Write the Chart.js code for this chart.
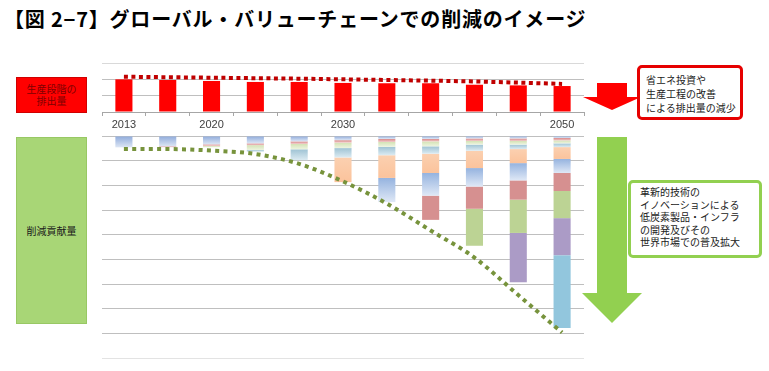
<!DOCTYPE html>
<html lang="ja">
<head>
<meta charset="utf-8">
<title>グローバル・バリューチェーンでの削減のイメージ</title>
<script src="https://cdn.jsdelivr.net/npm/chart.js@4.4.1/dist/chart.umd.min.js"></script>
<style>
  html, body { margin: 0; padding: 0; background: #fff; }
  #page {
    position: relative; width: 769px; height: 371px; overflow: hidden;
    font-family: "Noto Sans CJK JP", "Noto Sans", sans-serif; color: #222;
  }
  #title {
    position: absolute; left: 4px; top: 4px; font-size: 20px; font-weight: bold;
    letter-spacing: 0.8px; line-height: 30px; color: #000; white-space: nowrap;
  }
  canvas { position: absolute; left: 0; }
  #top-chart { top: 0; }
  #bottom-chart { top: 130px; }
  .side-box {
    position: absolute; left: 16px; width: 71px; box-sizing: border-box;
    font-size: 10px; text-align: center; display: flex; align-items: center;
    justify-content: center; line-height: 12px;
  }
  #emission-box { top: 77px; height: 36px; background: #ff0000; border: 1px solid #d00000; color: #800000; }
  #reduction-box { top: 137px; height: 187px; background: #a8d676; border: 1px solid #98c864; color: #1a1a1a; }
  .callout {
    position: absolute; box-sizing: border-box; background: #fff; border-radius: 5px;
    font-size: 10px; white-space: nowrap; color: #222;
  }
  #energy-note { left: 637px; top: 65px; width: 106px; height: 55px; border: 3px solid #e60000; padding: 5px 0 0 6px; line-height: 14px; }
  #innovation-note { left: 628px; top: 180px; width: 134px; height: 78px; border: 3px solid #92d050; padding: 3px 0 0 9px; line-height: 12.6px; }
  svg { position: absolute; left: 0; top: 0; }
</style>
</head>
<body>
<div id="page">
  <div id="title">【図 2−7】グローバル・バリューチェーンでの削減のイメージ</div>
  <canvas id="top-chart" width="769" height="140"></canvas>
  <canvas id="bottom-chart" width="769" height="241"></canvas>
  <div class="side-box" id="emission-box">生産段階の<br>排出量</div>
  <div class="side-box" id="reduction-box">削減貢献量</div>
  <svg width="769" height="371">
    <polygon points="597,83 627,83 627,97 641,97 612,110 583,97 597,97" fill="#ff0000"/>
    <polygon points="597,137 627,137 627,293 642,293 612,323 582,293 597,293" fill="#92d050"/>
  </svg>
  <div class="callout" id="energy-note">省エネ投資や<br>生産工程の改善<br>による排出量の減少</div>
  <div class="callout" id="innovation-note">革新的技術の<br>イノベーションによる<br>低炭素製品・インフラ<br>の開発及びその<br>世界市場での普及拡大</div>
</div>
<script>
// years on the axis (only some are labelled in the figure)
var years = ["2013", "", "2020", "", "", "2030", "", "", "", "", "2050"];

// production-stage emissions (top panel)
var emissions = [2.0, 1.96, 1.9, 1.84, 1.84, 1.78, 1.76, 1.76, 1.67, 1.63, 1.59];
var emissionTrend = [2.16, 2.13, 2.1, 2.07, 2.04, 2.0, 1.96, 1.92, 1.87, 1.8, 1.72];
var emissionTicks = [0, 1, 2, 3];

// reduction contributions (bottom panel), one array per technology band
var bandBlueTop = [0.46, 0.42, 0.34, 0.3, 0.22, 0.17, 0.12, 0.12, 0.1, 0.1, 0.08];
var bandRedThin = [0, 0.03, 0.06, 0.07, 0.1, 0.1, 0.12, 0.1, 0.1, 0.1, 0.1];
var bandYellow = [0, 0, 0.06, 0.2, 0.22, 0.22, 0.2, 0.2, 0.15, 0.15, 0.12];
var bandTeal = [0, 0, 0, 0.07, 0.44, 0.38, 0.34, 0.3, 0.25, 0.18, 0.15];
var bandOrange = [0, 0, 0, 0, 0, 1.0, 0.92, 0.78, 0.7, 0.57, 0.48];
var bandBlue = [0, 0, 0, 0, 0, 0, 0.98, 0.92, 0.75, 0.7, 0.57];
var bandRed = [0, 0, 0, 0, 0, 0, 0, 0.98, 0.9, 0.78, 0.73];
var bandGreen = [0, 0, 0, 0, 0, 0, 0, 0, 1.5, 1.35, 1.1];
var bandPurple = [0, 0, 0, 0, 0, 0, 0, 0, 0, 2.0, 1.5];
var bandCyan = [0, 0, 0, 0, 0, 0, 0, 0, 0, 0, 2.95];
var reductionCurve = [0.53, 0.53, 0.59, 0.73, 1.13, 1.84, 2.74, 3.83, 4.93, 6.45, 7.97];
var reductionTicks = [0, -1, -2, -3, -4, -5, -6, -7, -8, -9];

document.addEventListener("DOMContentLoaded", function () {
  var bands = [bandBlueTop, bandRedThin, bandYellow, bandTeal, bandOrange,
    bandBlue, bandRed, bandGreen, bandPurple, bandCyan];
  // top and bottom colours of each band's fill
  var bandColors = [
    ["#8eaadb", "#dde6f4"],
    ["#d98b8b", "#efc4c4"],
    ["#d3e2b4", "#eef4e0"],
    ["#9fc3d4", "#dcebf2"],
    ["#fbd0b0", "#fbc39c"],
    ["#95b3df", "#dfe8f6"],
    ["#d69090", "#d69090"],
    ["#bcd394", "#bcd394"],
    ["#ab9bc6", "#ab9bc6"],
    ["#92c6dd", "#92c6dd"],
  ];

  function negate(arr) {
    return arr.map(function (v) { return -v; });
  }

  // vertical gradient spanning one stacked segment
  function bandFill(k) {
    return function (context) {
      var chart = context.chart;
      if (!chart.chartArea) return bandColors[k][0];
      var i = context.dataIndex;
      var start = 0;
      for (var j = 0; j < k; j++) start += bands[j][i];
      var end = start + bands[k][i];
      var y = chart.scales.y;
      var y0 = y.getPixelForValue(-start);
      var y1 = y.getPixelForValue(-end);
      if (y1 - y0 < 1) return bandColors[k][0];
      var g = chart.ctx.createLinearGradient(0, y0, 0, y1);
      g.addColorStop(0, bandColors[k][0]);
      g.addColorStop(1, bandColors[k][1]);
      return g;
    };
  }

  Chart.defaults.font.family = "'Liberation Sans', Arial, sans-serif";
  Chart.defaults.animation = false;

  // Top panel: emissions
  var topCtx = document.getElementById("top-chart").getContext("2d");
  new Chart(topCtx, {
    type: "bar",
    data: {
      labels: years,
      datasets: [
        {
          type: "line",
          data: emissionTrend,
          borderColor: "#c00000",
          borderWidth: 4,
          borderDash: [4, 3.5],
          pointRadius: 0,
          fill: false,
          tension: 0,
        },
        {
          data: emissions,
          backgroundColor: "#ff0000",
          categoryPercentage: 1,
          barPercentage: 0.39,
        },
      ],
    },
    options: {
      responsive: false,
      layout: { padding: { top: 63, left: 102, right: 185, bottom: 0 } },
      plugins: { legend: { display: false }, tooltip: { enabled: false } },
      scales: {
        x: {
          grid: { offset: true, drawOnChartArea: false, tickLength: 4, color: "#a6a6a6" },
          border: { color: "#a6a6a6" },
          ticks: { autoSkip: false, maxRotation: 0, color: "#404040", font: { size: 11 }, padding: 2 },
          afterFit: function (axis) { axis.height = 28; },
        },
        y: {
          min: 0,
          max: 3,
          afterBuildTicks: function (axis) {
            axis.ticks = emissionTicks.map(function (v) { return { value: v }; });
          },
          ticks: { display: false },
          grid: {
            drawTicks: false,
            color: function (c) { return c.tick && c.tick.value === 3 ? "#d9d9d9" : "#bfbfbf"; },
          },
          border: { display: false },
          afterFit: function (axis) { axis.width = 0; },
        },
      },
    },
  });

  // Bottom panel: reduction contributions
  var bottomCtx = document.getElementById("bottom-chart").getContext("2d");
  var bottomSets = [
    {
      type: "line",
      data: negate(reductionCurve),
      borderColor: "#77933c",
      borderWidth: 4,
      borderDash: [4, 4.3],
      pointRadius: 0,
      fill: false,
      cubicInterpolationMode: "monotone",
      stack: "curve",
    },
  ];
  bands.forEach(function (band, k) {
    bottomSets.push({
      data: negate(band),
      backgroundColor: bandFill(k),
      categoryPercentage: 1,
      barPercentage: 0.39,
      stack: "bands",
    });
  });
  new Chart(bottomCtx, {
    type: "bar",
    data: { labels: years, datasets: bottomSets },
    options: {
      responsive: false,
      layout: { padding: { top: 6, left: 102, right: 185, bottom: 13 } },
      plugins: { legend: { display: false }, tooltip: { enabled: false } },
      scales: {
        x: { display: false, stacked: true },
        y: {
          stacked: true,
          min: -9,
          max: 0,
          afterBuildTicks: function (axis) {
            axis.ticks = reductionTicks.map(function (v) { return { value: v }; });
          },
          ticks: { display: false },
          grid: {
            drawTicks: false,
            color: function (c) { return c.tick && c.tick.value === -9 ? "#e3e3e3" : "#bfbfbf"; },
          },
          border: { display: false },
          afterFit: function (axis) { axis.width = 0; },
        },
      },
    },
  });
});
</script>
</body>
</html>
